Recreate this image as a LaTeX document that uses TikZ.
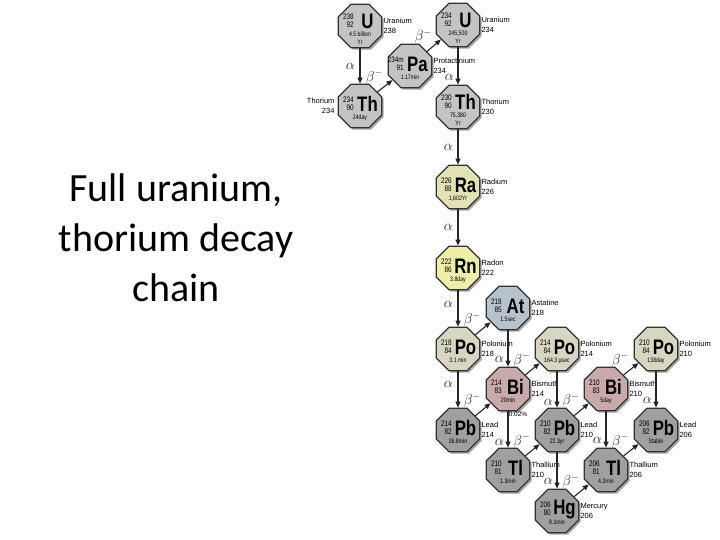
\documentclass[tikz,border=0pt]{standalone}
\usepackage{fontspec}
\setmainfont{Liberation Sans}
\newfontfamily\titlefont{Carlito}
\newfontfamily\nucfont[FakeStretch=0.8]{Liberation Sans}
\usetikzlibrary{positioning,arrows.meta,calc,shapes.geometric,shadows}
\definecolor{uGray}{HTML}{C4C4C4}
\definecolor{raYel}{HTML}{E2E2B4}
\definecolor{rnYel}{HTML}{EEEEA8}
\definecolor{atBlue}{HTML}{B6C2CC}
\definecolor{poBeige}{HTML}{D6D6C2}
\definecolor{biPink}{HTML}{C8AAAA}
\definecolor{pbGray}{HTML}{A0A0A0}
% [shift]{name}{position}{fill}{mass}{Z}{symbol}{half-life}
\newcommand{\nuclide}[8][0]{%
  \node[nuc, fill=#4] (#2) at (#3) {};
  \node[num, anchor=east] (#2-a) at ($(#2)+(-6,{-6+#1})$) {#5};
  \node[num, anchor=east] (#2-z) at ($(#2)+(-6,{2+#1})$) {#6};
  \node[sym] (#2-s) at ($(#2)+(7.5,{-2+#1})$) {#7};
  \node[hl, anchor=north] (#2-h) at ($(#2)+(0,{9+#1})$) {#8};
}

\begin{document}
\begin{tikzpicture}[x=1pt, y=-1pt,
  nuc/.style={regular polygon, regular polygon sides=8, minimum size=47pt, inner sep=0pt,
    draw=black!80, line width=1.3pt,
    drop shadow={shadow xshift=2pt, shadow yshift=-2pt, fill=black, opacity=0.35}},
  num/.style={inner sep=0pt, font=\nucfont\fontsize{8}{8}\selectfont},
  sym/.style={inner sep=0pt, font=\nucfont\bfseries\fontsize{21}{21}\selectfont},
  hl/.style={inner sep=0pt, font=\nucfont\fontsize{6.5}{7.5}\selectfont, align=center},
  elem/.style={inner sep=0pt, font=\fontsize{7.5}{10}\selectfont, align=left},
  arr/.style={-{Triangle[length=6pt,width=5pt]}, line width=1.1pt, black!85},
  lab/.style={font=\fontsize{14.5}{14.5}\selectfont, inner sep=1.5pt}]
\useasboundingbox (0,0) rectangle (720,540);
% title
\node[font=\titlefont\fontsize{40}{50}\selectfont, align=center] (ttl) at (176,238)
  {Full uranium,\\thorium decay\\chain};
% top of the chain
\nuclide[-3]{u238}{360,26}{uGray}{238}{92}{U}{4.5 billion\\Yr}
\nuclide[-3]{u234}{458,25}{uGray}{234}{92}{U}{245,500\\Yr}
\nuclide{pa234}{410,66}{uGray}{234m}{91}{Pa}{1.17min}
\nuclide{th234}{360,106}{uGray}{234}{90}{Th}{24day}
\nuclide[-3]{th230}{458,107}{uGray}{230}{90}{Th}{75,380\\Yr}
\nuclide{ra226}{458,187}{raYel}{226}{88}{Ra}{1,602Yr}
\nuclide{rn222}{458,268}{rnYel}{222}{86}{Rn}{3.8day}
% branches
\nuclide{at218}{508,308}{atBlue}{218}{85}{At}{1.5sec}
\nuclide{po218}{458,349}{poBeige}{218}{84}{Po}{3.1 min}
\nuclide{po214}{557,349}{poBeige}{214}{84}{Po}{164.3 µsec}
\nuclide{po210}{656,349}{poBeige}{210}{84}{Po}{138day}
\nuclide{bi214}{508,389}{biPink}{214}{83}{Bi}{20min}
\nuclide{bi210}{606,389}{biPink}{210}{83}{Bi}{5day}
\nuclide{pb214}{458,430}{pbGray}{214}{82}{Pb}{26.8min}
\nuclide{pb210}{557,430}{pbGray}{210}{82}{Pb}{22.3yr}
\nuclide{pb206}{656,430}{pbGray}{206}{82}{Pb}{Stable}
\nuclide{tl210}{508,470}{pbGray}{210}{81}{Tl}{1.3min}
\nuclide{tl206}{606,470}{pbGray}{206}{81}{Tl}{4.2min}
\nuclide{hg206}{557,511}{pbGray}{206}{80}{Hg}{8.1min}
% element names
\node[elem, right=1pt of u238] (u238-l) {Uranium\\238};
\node[elem, right=1pt of u234] (u234-l) {Uranium\\234};
\node[elem, right=1pt of pa234] (pa234-l) {Protactinium\\234};
\node[elem, left=3pt of th234, align=right] (th234-l) {Thorium\\234};
\node[elem, right=1pt of th230] (th230-l) {Thorium\\230};
\node[elem, right=1pt of ra226] (ra226-l) {Radium\\226};
\node[elem, right=1pt of rn222] (rn222-l) {Radon\\222};
\node[elem, right=1pt of at218] (at218-l) {Astatine\\218};
\node[elem, right=1pt of po218] (po218-l) {Polonium\\218};
\node[elem, right=1pt of po214] (po214-l) {Polonium\\214};
\node[elem, right=1pt of po210] (po210-l) {Polonium\\210};
\node[elem, right=1pt of bi214] (bi214-l) {Bismuth\\214};
\node[elem, right=1pt of bi210] (bi210-l) {Bismuth\\210};
\node[elem, right=1pt of pb214] (pb214-l) {Lead\\214};
\node[elem, right=1pt of pb210] (pb210-l) {Lead\\210};
\node[elem, right=1pt of pb206] (pb206-l) {Lead\\206};
\node[elem, right=1pt of tl210] (tl210-l) {Thallium\\210};
\node[elem, right=1pt of tl206] (tl206-l) {Thallium\\206};
\node[elem, right=1pt of hg206] (hg206-l) {Mercury\\206};
\node[elem, font=\fontsize{6.5}{8}\selectfont] (frac) at (518,414) {0.02\%};
% decays
\draw[arr] (u238) -- node[lab, left=3pt] (a1) {$\alpha$} (th234);
\draw[arr] (th234) -- node[lab, above left=0pt] (b1) {$\beta^-$} (pa234);
\draw[arr] (pa234) -- node[lab, above left=0pt] (b2) {$\beta^-$} (u234);
\draw[arr] (u234) -- node[lab, left=2pt, pos=0.8] (a2) {$\alpha$} (th230);
\draw[arr] (th230) -- node[lab, left=3pt] (a3) {$\alpha$} (ra226);
\draw[arr] (ra226) -- node[lab, left=3pt] (a4) {$\alpha$} (rn222);
\draw[arr] (rn222) -- node[lab, left=3pt, pos=0.4] (a5) {$\alpha$} (po218);
\draw[arr] (po218) -- node[lab, above left=0pt] (b3) {$\beta^-$} (at218);
\draw[arr] (at218) -- node[lab, left=2pt, pos=0.8] (a6) {$\alpha$} (bi214);
\draw[arr] (po218) -- node[lab, left=3pt, pos=0.35] (a7) {$\alpha$} (pb214);
\draw[arr] (pb214) -- node[lab, above left=0pt] (b4) {$\beta^-$} (bi214);
\draw[arr] (bi214) -- node[lab, above left=0pt] (b5) {$\beta^-$} (po214);
\draw[arr] (bi214) -- node[lab, left=2pt, pos=0.85] (a8) {$\alpha$} (tl210);
\draw[arr] (po214) -- node[lab, left=2pt, pos=0.85] (a9) {$\alpha$} (pb210);
\draw[arr] (tl210) -- node[lab, above left=0pt] (b6) {$\beta^-$} (pb210);
\draw[arr] (pb210) -- node[lab, above left=0pt] (b7) {$\beta^-$} (bi210);
\draw[arr] (bi210) -- node[lab, above left=0pt] (b8) {$\beta^-$} (po210);
\draw[arr] (po210) -- node[lab, left=2pt, pos=0.8] (a10) {$\alpha$} (pb206);
\draw[arr] (bi210) -- node[lab, left=2pt, pos=0.8] (a11) {$\alpha$} (tl206);
\draw[arr] (tl206) -- node[lab, above left=0pt] (b9) {$\beta^-$} (pb206);
\draw[arr] (pb210) -- node[lab, left=2pt, pos=0.8] (a12) {$\alpha$} (hg206);
\draw[arr] (hg206) -- node[lab, above left=0pt] (b10) {$\beta^-$} (tl206);
\end{tikzpicture}
\end{document}
